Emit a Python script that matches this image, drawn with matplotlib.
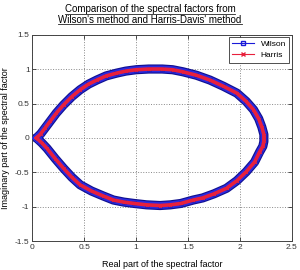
import matplotlib
matplotlib.use("Agg")
import matplotlib.pyplot as plt
from matplotlib.lines import Line2D

plt.rcParams['font.family'] = ['Liberation Sans', 'DejaVu Sans']

# spectral factor (upper half then lower half, closed loop)
upper_re = [0.04, 0.08, 0.12, 0.17, 0.23, 0.30, 0.38, 0.46, 0.54, 0.62, 0.71, 0.81,
            0.90, 1.00, 1.12, 1.25, 1.35, 1.45, 1.58, 1.71, 1.84, 1.97, 2.06, 2.13,
            2.18, 2.21, 2.23, 2.23]
upper_im = [0.00, 0.06, 0.14, 0.24, 0.36, 0.48, 0.60, 0.70, 0.78, 0.84, 0.90, 0.94,
            0.97, 0.99, 1.00, 1.00, 0.99, 0.96, 0.91, 0.84, 0.75, 0.65, 0.53, 0.41,
            0.28, 0.16, 0.05, 0.00]
lower_re = [2.23, 2.22, 2.19, 2.14, 2.06, 1.97, 1.87, 1.75, 1.64, 1.55, 1.43, 1.33,
            1.23, 1.10, 0.98, 0.88, 0.78, 0.68, 0.57, 0.46, 0.38, 0.30, 0.22, 0.14,
            0.09, 0.04]
lower_im = [-0.05, -0.12, -0.20, -0.35, -0.49, -0.62, -0.73, -0.81, -0.87, -0.90,
            -0.95, -0.97, -0.98, -0.97, -0.95, -0.93, -0.90, -0.84, -0.77, -0.68,
            -0.57, -0.44, -0.30, -0.15, -0.07, 0.00]

wilson_re = upper_re + lower_re
wilson_im = upper_im + lower_im
harris_re = upper_re + lower_re
harris_im = upper_im + lower_im

xticks = [0, 0.5, 1, 1.5, 2, 2.5]
xlabels = ['0', '0.5', '1', '1.5', '2', '2.5']
yticks = [-1.5, -1, -0.5, 0, 0.5, 1, 1.5]
ylabels = ['-1.5', '-1', '-0.5', '0', '0.5', '1', '1.5']

fig = plt.figure(figsize=(3.0, 2.7), dpi=100)
ax = fig.add_axes([0.108, 0.106, 0.865, 0.766])

# Wilson: dense blue squares -> thick blue band with darker rim
ax.plot(wilson_re, wilson_im, color='#101090', lw=6.6, solid_joinstyle='round',
        solid_capstyle='round', zorder=2)
ax.plot(wilson_re, wilson_im, color='#2a2ae0', lw=5.0, marker='s', ms=3,
        mfc='none', mec='#2020c0', mew=0.6, solid_joinstyle='round', zorder=3)
ax.plot(harris_re, harris_im, color='#e8203c', lw=2.6, marker='x', ms=2,
        mec='#e8203c', mew=0.7, solid_joinstyle='round', zorder=4)

ax.set_xlim(0, 2.5)
ax.set_ylim(-1.5, 1.5)
ax.set_xticks(xticks)
ax.set_xticklabels(xlabels)
ax.set_yticks(yticks)
ax.set_yticklabels(ylabels)
ax.tick_params(direction='in', length=3, width=0.6, labelsize=6, pad=2,
               top=True, right=True, colors='#333333')
ax.grid(True, linestyle=':', color='#888888', lw=0.7)
for s in ax.spines.values():
    s.set_linewidth(0.7)
    s.set_color('#444444')

handles = [Line2D([], [], color='#1a1ad8', lw=0.8, marker='s', ms=3.5, mfc='none'),
           Line2D([], [], color='#e8203c', lw=0.8, marker='x', ms=3)]
leg = ax.legend(handles, ['Wilson', 'Harris'], loc='upper right', fontsize=6,
                fancybox=False, edgecolor='#333333', framealpha=1,
                handlelength=2.6, borderpad=0.4, labelspacing=0.4,
                borderaxespad=0.3)
leg.get_frame().set_linewidth(0.6)

# axis labels sit right at the figure edges, as in the original
fig.text(0.54, 0.004, 'Real part of the spectral factor', ha='center',
         va='bottom', fontsize=6.5)
fig.text(0.004, 0.49, 'Imaginary part of the spectral factor', ha='left',
         va='center', rotation=90, fontsize=6.5)

t1 = fig.text(0.5, 0.985, 'Comparison of the spectral factors from', ha='center',
              va='top', fontsize=7)
t2 = fig.text(0.5, 0.945, "Wilson's method and Harris-Davis' method", ha='center',
              va='top', fontsize=7)

# underline the title lines
fig.canvas.draw()
r = fig.canvas.get_renderer()
for t in (t1, t2):
    bb = t.get_window_extent(r).transformed(fig.transFigure.inverted())
    fig.add_artist(Line2D([bb.x0, bb.x1], [bb.y0 + 0.002, bb.y0 + 0.002],
                          color='#222222', lw=0.6))

fig.savefig('out.png', dpi=100)
